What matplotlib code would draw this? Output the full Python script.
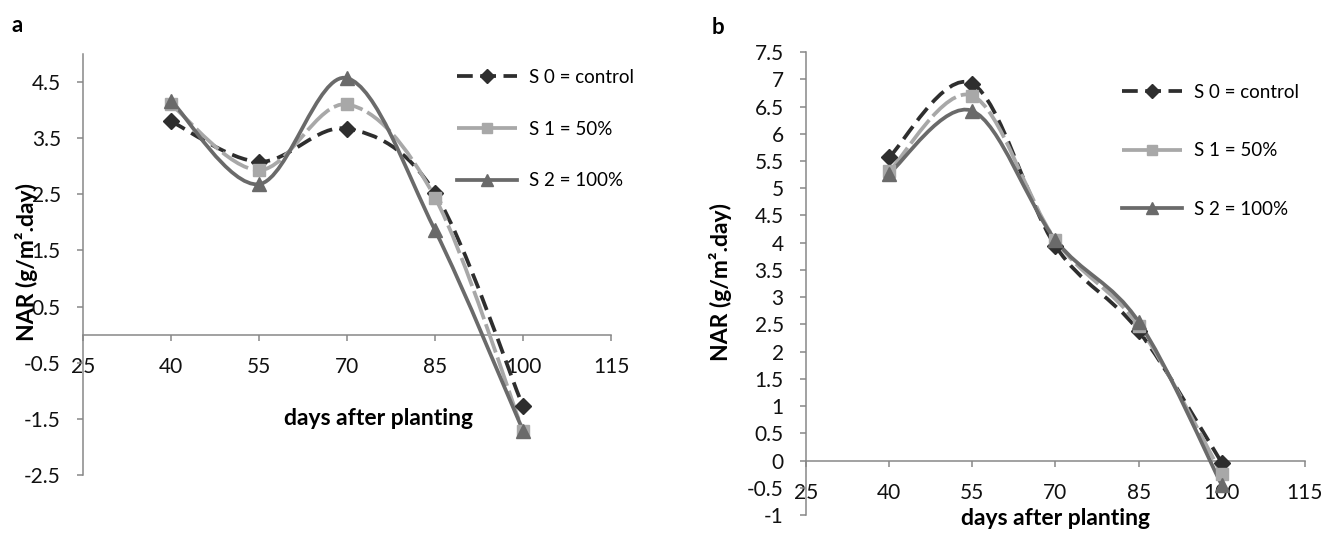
import matplotlib
matplotlib.use("Agg")
import matplotlib.pyplot as plt
from matplotlib.path import Path
from matplotlib.patches import PathPatch
from matplotlib.lines import Line2D

plt.rcParams['font.family'] = ['Lato', 'DejaVu Sans']

# data
days = [40, 55, 70, 85, 100]
series_names = ['S 0 = control', 'S 1 = 50%', 'S 2 = 100%']

a_s0 = [3.8, 3.08, 3.67, 2.52, -1.28]
a_s1 = [4.1, 2.93, 4.1, 2.44, -1.72]
a_s2 = [4.17, 2.68, 4.57, 1.86, -1.71]

b_s0 = [5.57, 6.92, 3.94, 2.38, -0.04]
b_s1 = [5.31, 6.7, 4.05, 2.47, -0.25]
b_s2 = [5.27, 6.42, 4.05, 2.55, -0.45]

xticks = [25, 40, 55, 70, 85, 100, 115]
a_yticks = [-2.5, -1.5, -0.5, 0.5, 1.5, 2.5, 3.5, 4.5]
b_yticks = [-1, -0.5, 0, 0.5, 1, 1.5, 2, 2.5, 3, 3.5, 4, 4.5, 5, 5.5, 6, 6.5, 7, 7.5]

colors = ['#2e2e2e', '#a8a8a8', '#6a6a6a']
markers = ['D', 's', '^']
msizes = [8, 8.5, 9.5]
dashes = [(4.2, 2.0), (8.0, 1.4), None]


def smooth_path(x, y):
    # excel-like smoothed line: bezier segments through the points
    n = len(x)
    verts = [(x[0], y[0])]
    codes = [Path.MOVETO]
    for i in range(n - 1):
        i0 = max(i - 1, 0)
        i3 = min(i + 2, n - 1)
        c1 = (x[i] + (x[i + 1] - x[i0]) / 6.0, y[i] + (y[i + 1] - y[i0]) / 6.0)
        c2 = (x[i + 1] - (x[i3] - x[i]) / 6.0, y[i + 1] - (y[i3] - y[i]) / 6.0)
        verts += [c1, c2, (x[i + 1], y[i + 1])]
        codes += [Path.CURVE4] * 3
    return Path(verts, codes)


def draw_panel(ax, data, ylim, yticks):
    for k, vals in enumerate(data):
        patch = PathPatch(smooth_path(days, vals), fill=False, edgecolor=colors[k],
                          linewidth=2.7, zorder=3 + k)
        if dashes[k] is not None:
            patch.set_linestyle((0, dashes[k]))
        ax.add_patch(patch)
        ax.plot(days, vals, linestyle='none', marker=markers[k], markersize=msizes[k],
                color=colors[k], zorder=6 + k)

    ax.set_xlim(25, 115)
    ax.set_ylim(*ylim)
    ax.set_xticks(xticks)
    ax.set_yticks(yticks)
    ax.set_yticklabels(['%g' % v for v in yticks])

    for s in ['top', 'right']:
        ax.spines[s].set_visible(False)
    ax.spines['bottom'].set_position(('data', 0))
    for s in ['left', 'bottom']:
        ax.spines[s].set_color('#878787')
        ax.spines[s].set_linewidth(1.1)
    ax.tick_params(axis='both', direction='out', length=4, width=1.1, color='#878787',
                   labelsize=15, labelcolor='#111111')
    ax.tick_params(axis='x', pad=12)
    ax.tick_params(axis='y', pad=12)

    ax.set_ylabel('NAR (g/m².day)', fontsize=16.5, fontweight='bold')
    ax.set_xlabel('days after planting', fontsize=16.5, fontweight='bold')

    # legend with line + marker proxies
    handles = []
    for k in range(3):
        h = Line2D([], [], color=colors[k], linewidth=2.7, marker=markers[k],
                   markersize=msizes[k] - 1)
        if dashes[k] is not None:
            h.set_dashes(dashes[k])
        handles.append(h)
    return handles


fig = plt.figure(figsize=(13.26, 5.37), dpi=100)

# panel a
ax1 = fig.add_axes([0.0626, 0.1155, 0.3982, 0.784])
h = draw_panel(ax1, [a_s0, a_s1, a_s2], (-2.5, 5), a_yticks)
ax1.yaxis.set_label_coords(-0.086, 0.506)
ax1.xaxis.set_label_coords(0.559, 0.158)
fig.legend(h, series_names, loc='upper left', bbox_to_anchor=(457 / 1326, 1 - 69 / 537),
           bbox_transform=fig.transFigure, frameon=False, fontsize=13.5, borderpad=0,
           borderaxespad=0, handlelength=3.2, handletextpad=0.62, labelspacing=1.85)

# panel b
ax2 = fig.add_axes([0.6078, 0.041, 0.3763, 0.862])
h = draw_panel(ax2, [b_s0, b_s1, b_s2], (-1, 7.5), b_yticks)
ax2.yaxis.set_label_coords(-0.148, 0.503)
ax2.xaxis.set_label_coords(0.501, 0.016)
fig.legend(h, series_names, loc='upper left', bbox_to_anchor=(1122 / 1326, 1 - 84 / 537),
           bbox_transform=fig.transFigure, frameon=False, fontsize=13.5, borderpad=0,
           borderaxespad=0, handlelength=3.2, handletextpad=0.62, labelspacing=2.2)

# panel letters
fig.text(17 / 1326, 1 - 25 / 537, 'a', fontsize=16, fontweight='bold', va='center', ha='center')
fig.text(718 / 1326, 1 - 27 / 537, 'b', fontsize=16, fontweight='bold', va='center', ha='center')

plt.savefig('out.png', dpi=100)
